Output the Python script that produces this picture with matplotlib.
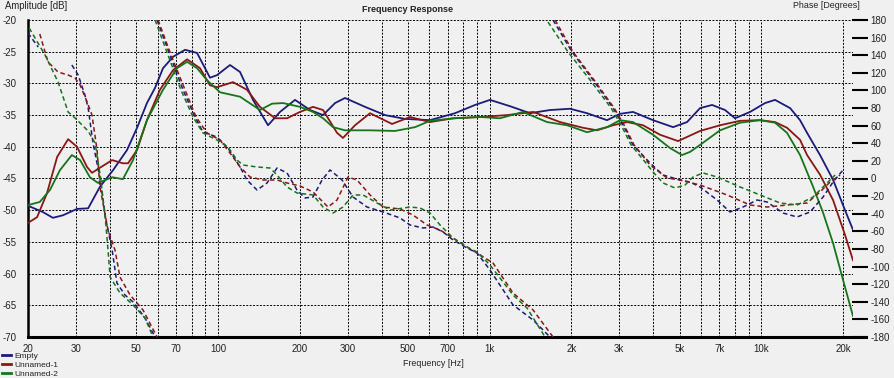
import numpy as np
import matplotlib
matplotlib.use('Agg')
import matplotlib.pyplot as plt
from matplotlib.lines import Line2D

plt.rcParams['font.family'] = ['Liberation Sans', 'DejaVu Sans']
plt.rcParams['axes.unicode_minus'] = False

# ---- amplitude (solid) ----
EMPTY_F = [20, 22.7, 24.7, 26.9, 30.3, 33.3, 36.8, 41.1, 46.3, 50.4, 54.8, 58.7, 62.8, 68.4, 75.7,
           83.8, 93.5, 99.2, 110.8, 120.6, 134.6, 152.9, 169.2, 192.2, 218.3, 243.7, 269.8, 293.6,
           347.8, 412.2, 488.2, 603.4, 745.8, 883.6, 1003, 1189, 1408, 1668, 1977, 2282, 2704, 3020,
           3370, 3994, 4732, 5328, 5948, 6586, 7352, 8000, 9086, 10320, 11230, 12760, 13880, 14730,
           16440, 18360, 20320, 21740]
EMPTY_DB = [-49.3, -50.3, -51.2, -50.8, -49.8, -49.7, -46.3, -43.7, -40.5, -37.0, -33.1, -30.7, -27.6,
            -25.8, -24.7, -25.2, -29.1, -28.7, -27.1, -28.2, -32.6, -36.6, -34.5, -32.6, -34.2, -35.0,
            -33.1, -32.3, -33.7, -35.0, -35.6, -35.8, -34.7, -33.4, -32.6, -33.6, -34.7, -34.2, -34.0,
            -34.7, -35.8, -34.8, -34.5, -35.8, -36.9, -36.1, -33.9, -33.4, -34.2, -35.5, -34.5, -33.1,
            -32.6, -33.9, -35.8, -37.8, -41.3, -45.2, -50.0, -53.1]

U1_F = [20, 21.6, 23.5, 25.6, 28.1, 30.3, 33.0, 34.4, 36.8, 40.8, 44.7, 46.7, 50.4, 54.8, 61.2, 68.4,
        77.0, 85.9, 93.5, 99.2, 113.6, 127.9, 142.8, 162.3, 179.6, 200.5, 223.9, 243.7, 274.4, 288.6,
        319.6, 363.0, 437.3, 509.4, 603.4, 733.3, 921.8, 1159, 1445, 1816, 2207, 2485, 2846, 3204,
        3669, 4238, 4937, 5948, 7047, 8347, 9891, 11230, 12430, 13880, 14730, 16440, 18360, 20320,
        21740]
U1_DB = [-52.0, -51.1, -47.3, -41.6, -38.8, -40.0, -43.2, -44.1, -43.3, -42.1, -42.6, -42.6, -40.5,
         -35.8, -31.0, -27.9, -26.2, -27.6, -30.3, -30.6, -29.8, -31.0, -33.7, -35.5, -35.5, -34.5,
         -33.7, -34.2, -37.8, -38.6, -36.6, -34.7, -36.4, -35.3, -36.1, -35.5, -35.3, -35.0, -34.5,
         -36.1, -37.0, -37.4, -36.6, -36.1, -36.6, -38.1, -39.1, -37.5, -36.6, -35.9, -35.8, -36.1,
         -37.0, -38.9, -41.3, -44.4, -48.4, -53.9, -57.9]

U2_F = [20, 22.1, 24.1, 26.2, 29.0, 31.1, 33.8, 36.2, 40.8, 44.7, 48.7, 54.8, 62.8, 70.7, 77.0, 83.8,
        91.2, 101.8, 120.6, 142.8, 158.2, 173.6, 200.5, 223.9, 243.7, 265.2, 293.6, 363.0, 448.6,
        531.6, 603.4, 745.8, 921.8, 1092, 1327, 1627, 1927, 2282, 2704, 3020, 3370, 3994, 4613,
        5107, 5466, 5948, 7047, 8347, 9891, 11230, 12430, 13880, 15500, 16870, 18360, 19980, 21740]
U2_DB = [-49.2, -48.7, -46.8, -43.7, -41.3, -42.1, -44.8, -45.7, -44.8, -45.1, -42.1, -35.8, -31.0,
         -27.6, -26.6, -27.6, -29.5, -31.4, -32.1, -34.2, -33.2, -33.1, -33.7, -34.5, -35.5, -36.9,
         -37.4, -37.4, -37.5, -36.9, -35.9, -35.5, -35.3, -35.5, -34.5, -36.1, -36.6, -37.7, -36.9,
         -35.8, -36.1, -38.1, -40.2, -41.3, -40.8, -39.7, -37.4, -36.2, -35.8, -36.2, -37.8, -41.3,
         -46.3, -50.4, -55.2, -61.0, -66.7]

# ---- phase (dashed), one list per wrapped segment ----
EMPTY_PF = [[20, 21.8],
            [29.0, 30.6, 32.4, 33.3, 34.7, 36.8, 38.7, 40.8, 42.5, 45.5, 48.7, 53.9, 58.7],
            [59.7, 66.6, 74.4, 82.4, 88.1, 99.2, 108.9, 120.6, 127.9, 139.3, 151.6, 165.0, 179.6,
             195.5, 209.2, 223.9, 241.6, 258.6, 286.3, 314.2, 353.8, 405.3, 467.8, 509.4, 568.6,
             619.0, 673.8, 733.3, 825.6, 899.0, 1003, 1219, 1445, 1668],
            [1711, 2010, 2402, 2846, 3097, 3370, 3893, 4346, 5018, 5466, 5948, 6872, 7668, 8562,
             9644, 10500, 12020, 13530, 15110, 16870, 18360, 19980]]
EMPTY_PH = [[165.2, 149.3],
            [128.9, 117.5, 94.8, 80.1, 40.3, 0.6, -47.1, -81.2, -118.7, -132.3, -140.2, -158.4, -180],
            [180, 140.3, 100.5, 69.8, 52.8, 47.1, 34.6, 13.1, -1.7, -13.1, -5.1, 11.9, 6.3, -13.1,
             -22.1, -21.0, -1.7, 9.7, -1.7, -21.0, -32.4, -38.0, -44.8, -52.8, -56.2, -55.1, -60.7,
             -69.8, -78.9, -84.6, -103.9, -143.6, -160.7, -180],
            [180, 143.7, 111.9, 80.1, 60.8, 38.1, 17.6, 4.0, -1.7, -4.0, -9.6, -24.4, -38.0, -32.4,
             -24.4, -26.7, -39.2, -43.7, -38.0, -21.0, -4.0, 9.7]]

U1_PF = [[22.1, 23.7, 25.8, 28.1, 29.8, 31.1, 33.0, 34.4, 35.9, 36.8, 39.4, 41.8, 43.6, 47.5, 53.0, 59.7],
         [60.2, 67.2, 75.7, 83.1, 91.2, 101.8, 113.6, 120.6, 131.3, 146.5, 165.0, 179.6, 200.5, 223.9,
          254.2, 274.4, 301.2, 325.0, 363.0, 405.3, 467.8, 522.5, 588.2, 656.8, 733.3, 825.6, 899.0,
          1029, 1219, 1445, 1711],
         [1741, 2028, 2423, 2871, 3124, 3400, 3893, 4497, 5018, 5948, 7478, 9086, 10500, 12430,
          14730, 16440, 17900, 19480]]
U1_PH = [[164.1, 132.3, 120.9, 117.5, 114.1, 106.2, 86.9, 72.1, 32.4, -9.6, -58.5, -81.2, -111.9,
          -132.3, -149.3, -180],
         [180, 140.3, 100.5, 69.8, 51.7, 43.7, 24.4, 13.1, 1.7, -1.7, -1.7, -5.1, -8.5, -15.3, -32.4,
          -24.4, 1.7, -1.7, -18.7, -32.4, -34.6, -41.5, -52.8, -58.5, -67.6, -77.8, -84.6, -96.0,
          -130.0, -149.3, -180],
         [180, 143.7, 111.9, 80.1, 60.8, 38.1, 15.3, 0.6, -1.7, -7.4, -18.7, -30.1, -32.4, -30.1,
          -27.8, -15.3, -4.0, 4.0]]

U2_PF = [[20.2, 23.1, 25.8, 28.1, 29.8, 33.3, 35.3, 37.1, 38.7, 39.4, 40.1, 43.6, 48.7, 53.9, 57.7],
         [58.7, 65.5, 73.1, 81.0, 88.1, 99.2, 108.9, 117.5, 123.7, 139.3, 155.5, 165.0, 179.6, 195.5,
          223.9, 243.7, 265.2, 288.6, 314.2, 342.0, 385.1, 429.9, 509.4, 554.4, 603.4, 656.8, 697.0,
          733.3, 825.6, 899.0, 1003, 1219, 1373, 1599],
         [1640, 1943, 2342, 2798, 3046, 3316, 3733, 3994, 4346, 4812, 5238, 5606, 6102, 6872, 8347,
          9891, 11720, 13530, 15500, 16870, 18680]]
U2_PH = [[170.9, 140.3, 109.6, 75.5, 68.7, 53.9, 40.3, -1.7, -52.8, -81.2, -111.9, -130.0, -143.6,
          -158.4, -180],
         [180, 140.3, 100.5, 69.8, 51.7, 43.7, 35.8, 21.0, 15.3, 13.1, 11.9, 4.0, -9.6, -16.5, -18.7,
          -32.4, -39.2, -32.4, -18.7, -18.7, -27.8, -35.8, -32.4, -33.5, -39.2, -52.8, -60.7, -67.6,
          -77.8, -83.5, -98.2, -132.3, -147.1, -180],
         [177.7, 143.7, 111.9, 80.1, 60.8, 38.1, 18.7, 7.4, -5.1, -10.8, -7.4, 1.7, 6.3, 1.7, -9.6,
          -18.7, -27.8, -30.1, -21.0, -9.6, 4.0]]

NAMES = ['Empty', 'Unnamed-1', 'Unnamed-2']
COLORS = ['#1b1b7a', '#8a1616', '#16741a']

GRID_F = [30, 40, 50, 60, 70, 80, 90, 100, 200, 300, 400, 500, 600, 700, 800, 900,
          1000, 2000, 3000, 4000, 5000, 6000, 7000, 8000, 9000, 10000, 20000]
F_LABELS = {20: '20', 30: '30', 50: '50', 70: '70', 100: '100', 200: '200', 300: '300',
            500: '500', 700: '700', 1000: '1k', 2000: '2k', 3000: '3k', 5000: '5k',
            7000: '7k', 10000: '10k', 20000: '20k'}


def join_segments(fs, ps):
    xs, ys = [], []
    for f, p in zip(fs, ps):
        xs += list(f) + [np.nan]
        ys += list(p) + [np.nan]
    return xs, ys


W, H = 894, 378
BG = '#f0f0f0'
TXT = '#222222'
fig = plt.figure(figsize=(W / 100, H / 100), dpi=100, facecolor=BG)
ax = fig.add_axes([28 / W, 1 - 337 / H, 825 / W, 317 / H])
ax.set_facecolor(BG)
ax.set_xscale('log')
ax.set_xlim(20, 21740)
ax.set_ylim(-70, -20)

ticks = [20] + GRID_F
ax.set_xticks(ticks, labels=[F_LABELS.get(t, '') for t in ticks])
ax.xaxis.set_minor_locator(plt.NullLocator())
ax.set_yticks(range(-70, -19, 5), labels=[str(v) for v in range(-70, -19, 5)])
ax.tick_params(axis='both', length=0, labelsize=7, colors=TXT)
ax.tick_params(axis='y', pad=8)
ax.tick_params(axis='x', pad=5)
ax.grid(True, color='black', linestyle=(0, (2, 1.5)), linewidth=0.7)

for s in ['top', 'right']:
    ax.spines[s].set_visible(False)
ax.spines['left'].set_linewidth(1.8)
ax.spines['bottom'].set_visible(False)
ax.axhline(-70, xmin=0, xmax=(866 - 28) / 825, color='black', lw=2.2, clip_on=False, zorder=5)

amps = [(EMPTY_F, EMPTY_DB), (U1_F, U1_DB), (U2_F, U2_DB)]
for (f, db), c in zip(amps, COLORS):
    ax.plot(f, db, color=c, lw=1.3, solid_joinstyle='round', zorder=3)

ax2 = ax.twinx()
ax2.set_ylim(-180, 180)
ax2.patch.set_visible(False)
for s in ['top', 'left', 'bottom']:
    ax2.spines[s].set_visible(False)
ax2.spines['right'].set_position(('outward', 5))
ax2.spines['right'].set_visible(False)
ax2.set_yticks(range(-180, 181, 20), labels=[str(v) for v in range(-180, 181, 20)])
ax2.tick_params(axis='y', direction='inout', length=11.5, width=1.5, pad=2, labelsize=7,
                colors='black', labelcolor=TXT)

phases = [(EMPTY_PF, EMPTY_PH), (U1_PF, U1_PH), (U2_PF, U2_PH)]
for (fs, ps), c in zip(phases, COLORS):
    x, y = join_segments(fs, ps)
    ax2.plot(x, y, color=c, lw=1.1, linestyle=(0, (3, 2)), zorder=3)

fig.text(5 / W, 1 - 6 / H, 'Amplitude [dB]', ha='left', va='center', fontsize=6.9, color=TXT)
fig.text(860 / W, 1 - 6 / H, 'Phase [Degrees]', ha='right', va='center', fontsize=6.4, color=TXT)
fig.text(408 / W, 1 - 10 / H, 'Frequency Response', ha='center', va='center', fontsize=6.5,
         fontweight='bold', color=TXT)
fig.text(433 / W, 1 - 364 / H, 'Frequency [Hz]', ha='center', va='center', fontsize=6.4, color=TXT)

handles = [Line2D([], [], color=c, lw=2) for c in COLORS]
fig.legend(handles, NAMES, loc='lower left', bbox_to_anchor=(1 / W, -1 / H), frameon=False,
           fontsize=6.0, labelspacing=0.15, handlelength=1.0, handletextpad=0.4,
           borderpad=0.15, borderaxespad=0, labelcolor=TXT)

fig.savefig('out.png', dpi=100, facecolor=BG)
